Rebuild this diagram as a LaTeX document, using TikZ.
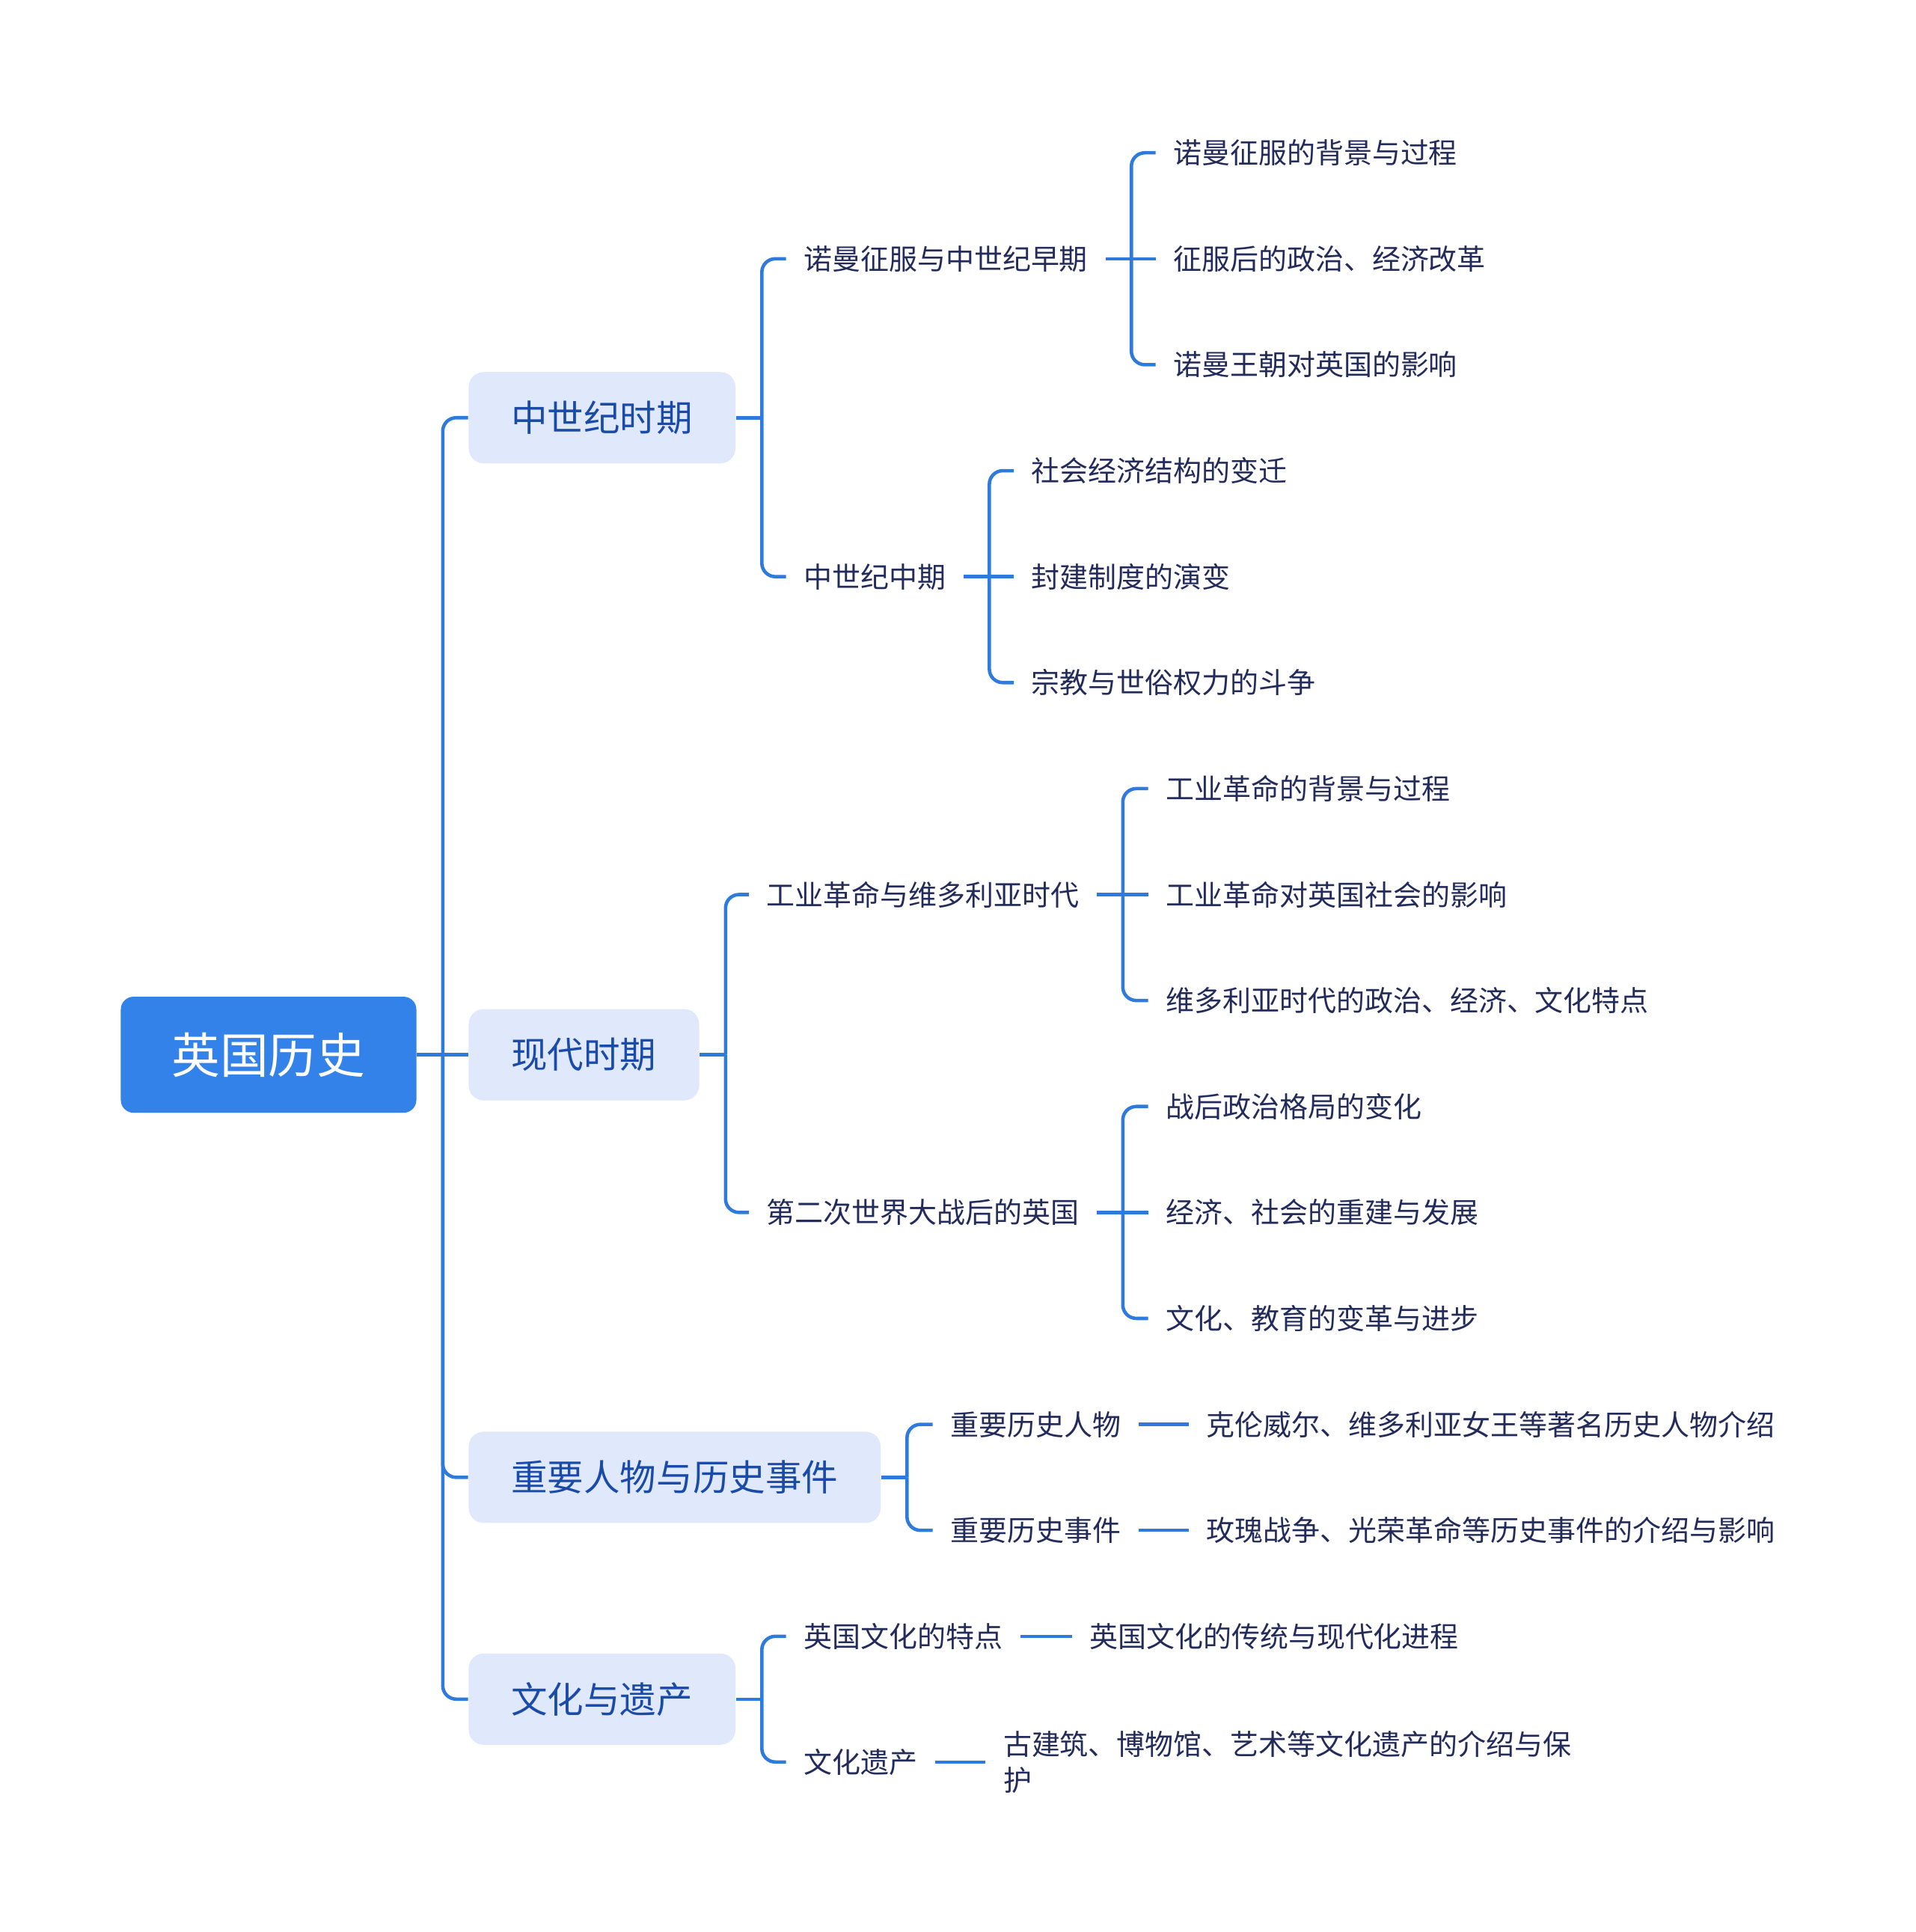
\documentclass[tikz,border=0pt]{standalone}
\usepackage{fontspec}
\newfontfamily\cjk{Noto Sans CJK SC}
\definecolor{linkblue}{HTML}{2F7BDD}
\definecolor{rootblue}{HTML}{3382E9}
\definecolor{topicfill}{HTML}{E0E8FB}
\definecolor{topictext}{HTML}{1A4BA8}
\definecolor{leaftext}{HTML}{232B5A}
\tikzset{
    link/.style={draw=linkblue, line width=1.3pt, rounded corners=0.18cm},
    rootbox/.style={
        fill=rootblue, rounded corners=0.17cm, text=white,
        minimum width=3.95cm, minimum height=1.55cm, inner sep=0pt,
        font=\cjk\fontsize{18.4}{22}\selectfont
    },
    topicbox/.style={
        fill=topicfill, rounded corners=0.2cm, text=topictext, anchor=west,
        minimum height=1.22cm, inner xsep=0.57cm, inner ysep=0pt,
        font=\cjk\fontsize{13.8}{16}\selectfont
    },
    leaf/.style={
        text=leaftext, anchor=west, align=left,
        inner xsep=0.23cm, inner ysep=0pt,
        font=\cjk\fontsize{10.8}{13.6}\selectfont
    }
}
\newcommand{\stem}[1] {
	\draw[link] (#1.east) -- ++(21,0) coordinate (#1-bar);
}
\newcommand{\twig}[2] {
	\draw[link] (#1-bar) |- (#2.west);
}
\newcommand{\midtwig}[2] {
	\draw[link] (#1-bar) -- (#2.west);
}

\begin{document}
\begin{tikzpicture}[x=0.016463cm, y=-0.016463cm]
		\useasboundingbox (0,0) rectangle (1555,1568);

		% Root
		\node[rootbox] (root) at (218,856) {英国历史};

		% Main topics
		\node[topicbox] (medieval) at (380,339) {中世纪时期};
		\node[topicbox] (modern) at (380,856) {现代时期};
		\node[topicbox] (figures) at (380,1199) {重要人物与历史事件};
		\node[topicbox] (heritage) at (380,1379) {文化与遗产};

		\stem{root}
		\twig{root}{medieval}
		\midtwig{root}{modern}
		\twig{root}{figures}
		\twig{root}{heritage}

		% Medieval
		\node[leaf] (norman) at (638,210) {诺曼征服与中世纪早期};
		\node[leaf] (highmid) at (638,468) {中世纪中期};
		\stem{medieval}
		\twig{medieval}{norman}
		\twig{medieval}{highmid}

		\node[leaf] (norman1) at (938,124) {诺曼征服的背景与过程};
		\node[leaf] (norman2) at (938,210) {征服后的政治、经济改革};
		\node[leaf] (norman3) at (938,296) {诺曼王朝对英国的影响};
		\stem{norman}
		\twig{norman}{norman1}
		\midtwig{norman}{norman2}
		\twig{norman}{norman3}

		\node[leaf] (highmid1) at (823,382) {社会经济结构的变迁};
		\node[leaf] (highmid2) at (823,468) {封建制度的演变};
		\node[leaf] (highmid3) at (823,554) {宗教与世俗权力的斗争};
		\stem{highmid}
		\twig{highmid}{highmid1}
		\midtwig{highmid}{highmid2}
		\twig{highmid}{highmid3}

		% Modern
		\node[leaf] (industry) at (608,726) {工业革命与维多利亚时代};
		\node[leaf] (postwar) at (608,984) {第二次世界大战后的英国};
		\stem{modern}
		\twig{modern}{industry}
		\twig{modern}{postwar}

		\node[leaf] (industry1) at (932,640) {工业革命的背景与过程};
		\node[leaf] (industry2) at (932,726) {工业革命对英国社会的影响};
		\node[leaf] (industry3) at (932,812) {维多利亚时代的政治、经济、文化特点};
		\stem{industry}
		\twig{industry}{industry1}
		\midtwig{industry}{industry2}
		\twig{industry}{industry3}

		\node[leaf] (postwar1) at (932,898) {战后政治格局的变化};
		\node[leaf] (postwar2) at (932,984) {经济、社会的重建与发展};
		\node[leaf] (postwar3) at (932,1070) {文化、教育的变革与进步};
		\stem{postwar}
		\twig{postwar}{postwar1}
		\midtwig{postwar}{postwar2}
		\twig{postwar}{postwar3}

		% Figures and events
		\node[leaf] (people) at (757,1156) {重要历史人物};
		\node[leaf] (events) at (757,1242) {重要历史事件};
		\stem{figures}
		\twig{figures}{people}
		\twig{figures}{events}

		\node[leaf] (people1) at (965,1156) {克伦威尔、维多利亚女王等著名历史人物介绍};
		\node[leaf] (events1) at (965,1242) {玫瑰战争、光荣革命等历史事件的介绍与影响};
		\draw[link] (people) -- (people1);
		\draw[link] (events) -- (events1);

		% Culture and heritage
		\node[leaf] (culture) at (638,1328) {英国文化的特点};
		\node[leaf] (legacy) at (638,1430) {文化遗产};
		\stem{heritage}
		\twig{heritage}{culture}
		\twig{heritage}{legacy}

		\node[leaf] (culture1) at (870,1328) {英国文化的传统与现代化进程};
		\node[leaf] (legacy1) at (800,1430) {古建筑、博物馆、艺术等文化遗产的介绍与保\\护};
		\draw[link] (culture) -- (culture1);
		\draw[link] (legacy) -- (legacy1);

	\end{tikzpicture}
\end{document}
